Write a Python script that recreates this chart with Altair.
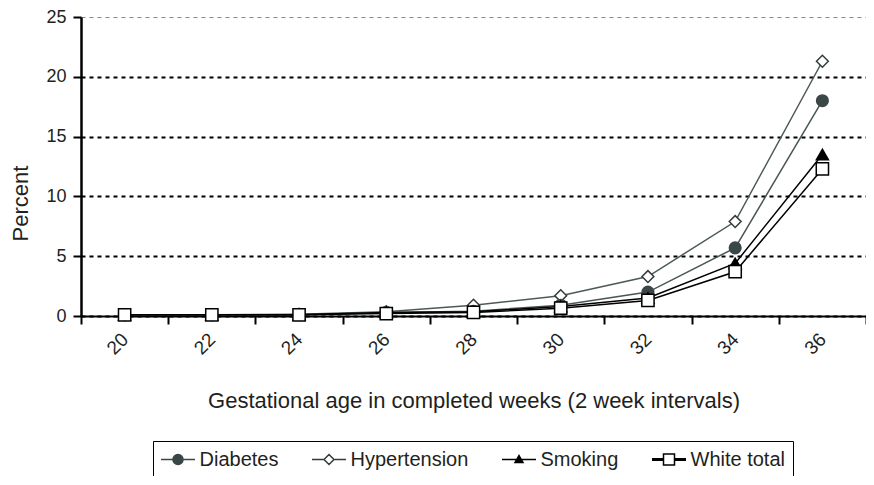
import altair as alt
import pandas as pd

# ---- data ----
weeks = [20, 22, 24, 26, 28, 30, 32, 34, 36]
series_order = ["Diabetes", "Hypertension", "Smoking", "White total"]
draw_order = ["Hypertension", "Diabetes", "Smoking", "White total"]
diabetes = [0.1, 0.1, 0.1, 0.3, 0.4, 0.9, 2.0, 5.7, 18.0]
hypertension = [0.1, 0.1, 0.15, 0.35, 0.9, 1.7, 3.3, 7.9, 21.3]
smoking = [0.1, 0.1, 0.1, 0.3, 0.35, 0.8, 1.5, 4.4, 13.5]
white_total = [0.1, 0.1, 0.1, 0.2, 0.3, 0.65, 1.3, 3.7, 12.3]
y_ticks = [0, 5, 10, 15, 20, 25]

values = {
    "Diabetes": diabetes,
    "Hypertension": hypertension,
    "Smoking": smoking,
    "White total": white_total,
}
rows = []
for s in draw_order:
    for w, v in zip(weeks, values[s]):
        rows.append({"week": w, "value": v, "series": s})
df = pd.DataFrame(rows)

FONT = "Liberation Sans"
TXT = "#231f20"

line_colors = ["#4a5656", "#4d5959", "#000000", "#000000"]
line_widths = [1.5, 1.5, 2.0, 3.5]
pt_fill = ["#3b4747", "#ffffff", "#000000", "#ffffff"]
pt_stroke = ["#3b4747", "#333b3b", "#000000", "#000000"]
pt_shapes = ["circle", "diamond", "triangle-up", "square"]
pt_sizes = [135, 150, 60, 175]

leg_shapes = [
    "M-1.7,0H-0.5M0.5,0H1.7M-0.5,0A0.5,0.5,0,1,1,0.5,0A0.5,0.5,0,1,1,-0.5,0Z",
    "M-1.7,0H-0.5M0.5,0H1.7M0,-0.5L0.5,0L0,0.5L-0.5,0Z",
    "M-1.7,0H1.7M0,-0.4L0.4,0.3L-0.4,0.3Z",
    "M-1.7,-0.08H-0.55M-1.7,0.08H-0.55M0.55,-0.08H1.7M0.55,0.08H1.7M-0.55,-0.55H0.55V0.55H-0.55Z",
]

x_enc = alt.X(
    "week:O",
    bandPosition=0.5,
    scale=alt.Scale(type="band", paddingInner=0, paddingOuter=0),
    axis=alt.Axis(
        title="Gestational age in completed weeks (2 week intervals)",
        tickBand="extent",
        labelAngle=-45,
        labelAlign="right",
        labelBaseline="middle",
        labelFontSize=19,
        labelPadding=12,
        tickSize=8,
        tickWidth=2,
        tickColor="black",
        domainColor="black",
        domainWidth=2,
        grid=False,
        titleFontSize=22,
        titleFontWeight="normal",
        titleBaseline="alphabetic",
        titleY=91,
    ),
)
y_enc = alt.Y(
    "value:Q",
    scale=alt.Scale(domain=[0, 25], nice=False, zero=True),
    axis=alt.Axis(
        title="Percent",
        values=y_ticks,
        grid=True,
        gridColor={"condition": {"test": "datum.value == 25", "value": "#888888"}, "value": "black"},
        gridWidth={"condition": {"test": "datum.value == 25", "value": 1.2}, "value": 2},
        gridDash=[4, 4],
        labelFontSize=18,
        labelPadding=7,
        tickSize=8,
        tickWidth=2,
        tickColor="black",
        domainColor="black",
        domainWidth=2.5,
        titleFontSize=22,
        titleFontWeight="normal",
        titleAngle=270,
        titleAlign="center",
        titleBaseline="middle",
        titleX=-61,
        titleY=186,
    ),
)

lines = alt.Chart(df).mark_line().encode(
    x=x_enc,
    y=y_enc,
    stroke=alt.Stroke("series:N", scale=alt.Scale(domain=series_order, range=line_colors), legend=None),
    strokeWidth=alt.StrokeWidth("series:N", scale=alt.Scale(domain=series_order, range=line_widths), legend=None),
)

points = alt.Chart(df).mark_point(filled=True, opacity=1, strokeWidth=1.5).encode(
    x=x_enc,
    y=y_enc,
    shape=alt.Shape("series:N", scale=alt.Scale(domain=series_order, range=pt_shapes), legend=None),
    fill=alt.Fill("series:N", scale=alt.Scale(domain=series_order, range=pt_fill), legend=None),
    stroke=alt.Stroke("series:N", scale=alt.Scale(domain=series_order, range=pt_stroke), legend=None),
    size=alt.Size("series:N", scale=alt.Scale(domain=series_order, range=pt_sizes), legend=None),
)

legend_layer = alt.Chart(df).transform_filter("false").mark_point(
    filled=True, opacity=1, strokeWidth=1.5, size=400
).encode(
    x=x_enc,
    y=y_enc,
    shape=alt.Shape(
        "series:N",
        scale=alt.Scale(domain=series_order, range=leg_shapes),
        legend=alt.Legend(
            title=None,
            orient="none",
            legendX=72,
            legendY=424,
            direction="horizontal",
            strokeColor="black",
            padding=7.5,
            symbolSize=400,
            symbolStrokeWidth=1.5,
            symbolOffset=6.5,
            labelOffset=10.5,
            labelFontSize=20,
            labelFont=FONT,
            labelColor=TXT,
            labelLimit=0,
            columnPadding=30,
        ),
    ),
    fill=alt.Fill("series:N", scale=alt.Scale(domain=series_order, range=pt_fill)),
    stroke=alt.Stroke("series:N", scale=alt.Scale(domain=series_order, range=pt_stroke)),
)

chart = (
    alt.layer(lines, points, legend_layer)
    .resolve_scale(shape="independent", fill="independent", stroke="independent")
    .properties(
        width=785,
        height=299,
        autosize=alt.AutoSizeParams(type="none"),
        padding={"left": 73, "top": 9, "right": 0, "bottom": 160},
    )
    .configure_view(stroke=None)
    .configure_axis(labelFont=FONT, titleFont=FONT, labelColor=TXT, titleColor=TXT)
)

chart.save("out.html", embed_options={"renderer": "svg", "actions": False})
